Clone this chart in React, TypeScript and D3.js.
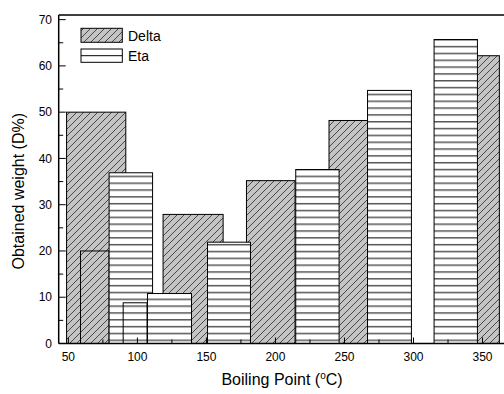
import { useMemo } from "react";
import * as d3 from "d3";

// Boiling ranges (°C) and obtained weight (D%)
const deltaStart = [48.7, 58.8, 118.6, 179.0, 238.8, 335.0];
const deltaEnd = [91.6, 79.5, 162.1, 214.2, 266.7, 362.2];
const deltaValue = [50, 20, 27.9, 35.2, 48.2, 62.2];

const etaStart = [79.5, 89.7, 107.3, 150.8, 214.7, 266.7, 314.9];
const etaEnd = [111.0, 107.0, 139.2, 181.9, 246.1, 298.5, 346.3];
const etaValue = [36.9, 8.8, 10.8, 21.9, 37.6, 54.7, 65.7];

const xTickValues = [50, 100, 150, 200, 250, 300, 350];
const yTickValues = [0, 10, 20, 30, 40, 50, 60, 70];

const FONT = "Liberation Sans, Arial, sans-serif";

interface Bar {
  x0: number;
  x1: number;
  value: number;
}

export default function App() {
  const width = 504;
  const height = 394;
  const plot = { left: 58.7, top: 15, bottom: 343.5, right: 506 };

  const xScale = d3.scaleLinear().domain([43, 367]).range([plot.left, plot.right]);
  const yScale = d3.scaleLinear().domain([0, 71]).range([plot.bottom, plot.top]);

  const deltaBars: Bar[] = useMemo(
    () => deltaValue.map((value, i) => ({ x0: deltaStart[i], x1: deltaEnd[i], value })),
    []
  );
  const etaBars: Bar[] = useMemo(
    () => etaValue.map((value, i) => ({ x0: etaStart[i], x1: etaEnd[i], value })),
    []
  );

  const xMinor = d3.range(75, 367, 50);
  const yMinor = d3.range(5, 71, 10);

  const renderBar = (b: Bar, fill: string, key: string) => (
    <rect
      key={key}
      x={xScale(b.x0)}
      y={yScale(b.value)}
      width={xScale(b.x1) - xScale(b.x0)}
      height={yScale(0) - yScale(b.value)}
      fill={fill}
      stroke="#000"
      strokeWidth={1}
    />
  );

  return (
    <svg
      width={width}
      height={height}
      style={{ position: "absolute", left: 0, top: 0, background: "#fff" }}
      fontFamily={FONT}
    >
      <defs>
        <pattern id="deltaHatch" patternUnits="userSpaceOnUse" width={7} height={7}>
          <rect width={7} height={7} fill="#c4c4c4" />
          <path d="M-1,1 L1,-1 M0,7 L7,0 M6,8 L8,6" stroke="#2a2a2a" strokeWidth={0.8} />
        </pattern>
        <pattern id="etaHatch" patternUnits="userSpaceOnUse" width={8} height={6.83}>
          <rect width={8} height={6.83} fill="#fff" />
          <line x1={0} x2={8} y1={5.7} y2={5.7} stroke="#000" strokeWidth={1} />
        </pattern>
        <clipPath id="plotClip">
          <rect x={plot.left} y={plot.top} width={width - plot.left} height={plot.bottom - plot.top} />
        </clipPath>
      </defs>

      {/* Bars: Delta behind, Eta in front */}
      <g clipPath="url(#plotClip)">
        {deltaBars.map((b, i) => renderBar(b, "url(#deltaHatch)", `d-${i}`))}
        {etaBars.map((b, i) => renderBar(b, "url(#etaHatch)", `e-${i}`))}
      </g>

      {/* Frame */}
      <line x1={plot.left} x2={width} y1={plot.top} y2={plot.top} stroke="#000" strokeWidth={1.5} />
      <line x1={plot.left} x2={width} y1={plot.bottom} y2={plot.bottom} stroke="#000" strokeWidth={1.5} />
      <line x1={plot.left} x2={plot.left} y1={plot.top} y2={plot.bottom} stroke="#000" strokeWidth={1.5} />

      {/* X axis ticks */}
      {xTickValues.map((t) => (
        <g key={`xt-${t}`}>
          <line x1={xScale(t)} x2={xScale(t)} y1={plot.bottom} y2={plot.bottom - 6} stroke="#000" strokeWidth={1} />
          <text x={xScale(t)} y={361} textAnchor="middle" fontSize={12} fill="#000">
            {t}
          </text>
        </g>
      ))}
      {xMinor.map((t) => (
        <line key={`xm-${t}`} x1={xScale(t)} x2={xScale(t)} y1={plot.bottom} y2={plot.bottom - 4} stroke="#000" strokeWidth={1} />
      ))}

      {/* Y axis ticks */}
      {yTickValues.map((t) => (
        <g key={`yt-${t}`}>
          <line x1={plot.left} x2={plot.left + 7} y1={yScale(t)} y2={yScale(t)} stroke="#000" strokeWidth={1} />
          <text x={52} y={yScale(t)} dy="0.35em" textAnchor="end" fontSize={12} fill="#000">
            {t}
          </text>
        </g>
      ))}
      {yMinor.map((t) => (
        <line key={`ym-${t}`} x1={plot.left} x2={plot.left + 4.5} y1={yScale(t)} y2={yScale(t)} stroke="#000" strokeWidth={1} />
      ))}

      {/* Axis titles */}
      <text x={282} y={385} textAnchor="middle" fontSize={16} fill="#000">
        Boiling Point (
        <tspan fontSize={10} dy={-6}>o</tspan>
        <tspan dy={6}>C)</tspan>
      </text>
      <text
        transform={`translate(24, ${(plot.top + plot.bottom) / 2 + 12}) rotate(-90)`}
        textAnchor="middle"
        fontSize={16}
        fill="#000"
      >
        Obtained weight (D%)
      </text>

      {/* Legend */}
      <rect x={81} y={28.3} width={41.3} height={14} fill="url(#deltaHatch)" stroke="#000" strokeWidth={1} />
      <text x={128} y={40.5} fontSize={14} fill="#000">Delta</text>
      <rect x={81} y={49} width={41.3} height={13.3} fill="#fff" stroke="#000" strokeWidth={1} />
      <line x1={81} x2={122.3} y1={55.7} y2={55.7} stroke="#000" strokeWidth={1} />
      <text x={128} y={61} fontSize={14} fill="#000">Eta</text>
    </svg>
  );
}
